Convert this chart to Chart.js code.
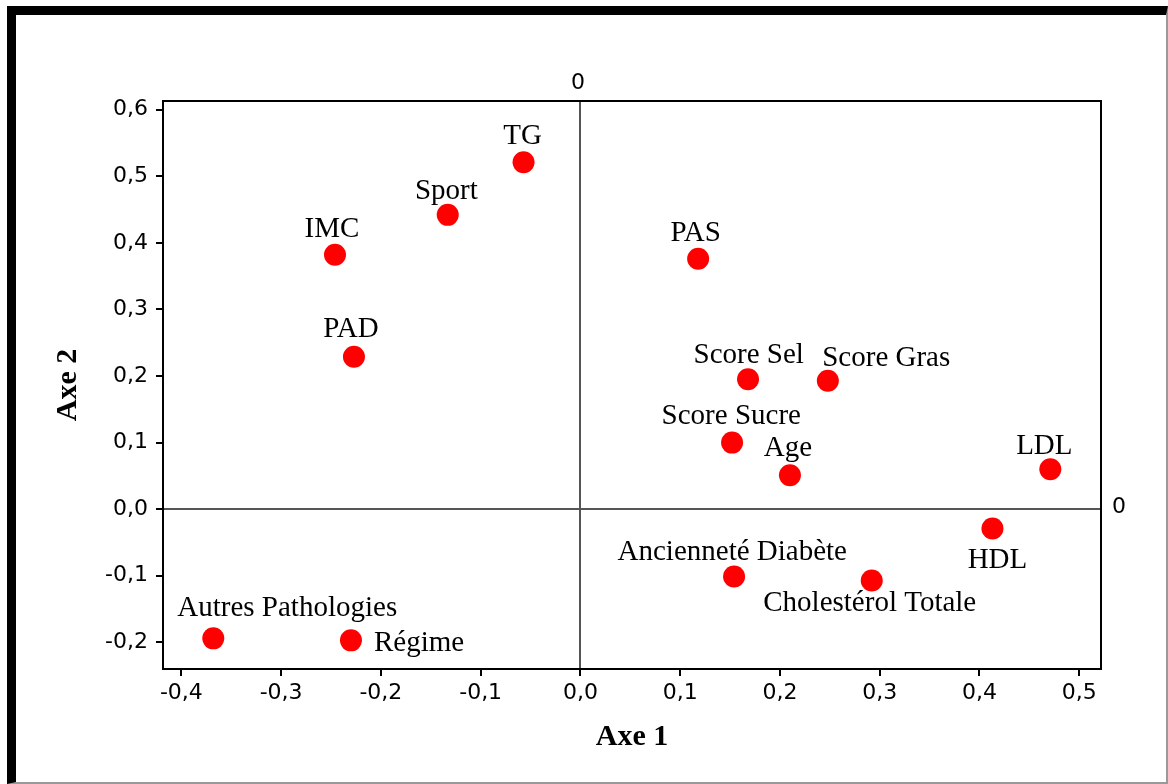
<!DOCTYPE html>
<html>
<head>
<meta charset="utf-8">
<script src="https://cdn.jsdelivr.net/npm/chart.js@4"></script>
<style>
  body { margin: 0; background: #fff; }
  #wrap { position: relative; width: 1168px; height: 784px; }
  #frame {
    position: absolute; left: 7px; top: 6px; width: 1161px; height: 778px;
    box-sizing: border-box; pointer-events: none;
    border-top: 9px solid #000; border-left: 9px solid #000;
    border-right: 2px solid #999; border-bottom: 2px solid #999;
  }
</style>
</head>
<body>
<div id="wrap">
  <canvas id="acp" width="1168" height="784"></canvas>
  <div id="frame"></div>
</div>
<script>
// variables (labels) and their coordinates on the two axes
const variables = ['IMC', 'Sport', 'TG', 'PAD', 'PAS', 'Score Sel', 'Score Gras', 'Score Sucre', 'Age',
  'LDL', 'HDL', 'Ancienneté Diabète', 'Cholestérol Totale', 'Autres Pathologies', 'Régime'];
const axe1 = [-0.246, -0.133, -0.057, -0.227, 0.118, 0.168, 0.248, 0.152, 0.210,
  0.471, 0.413, 0.154, 0.292, -0.368, -0.230];
const axe2 = [0.382, 0.442, 0.521, 0.229, 0.376, 0.195, 0.193, 0.100, 0.051,
  0.060, -0.029, -0.101, -0.107, -0.194, -0.197];

const xTicks = [-0.4, -0.3, -0.2, -0.1, 0.0, 0.1, 0.2, 0.3, 0.4, 0.5];
const yTicks = [-0.2, -0.1, 0.0, 0.1, 0.2, 0.3, 0.4, 0.5, 0.6];

const fmt = v => v.toFixed(1).replace('.', ',').replace('-0,0', '0,0');

// where each label sits relative to its point (pixels)
const labelPlace = {
  'IMC': [-3, -17.6, 'center'],
  'Sport': [-1.4, -16, 'center'],
  'TG': [-1, -18, 'center'],
  'PAD': [-3, -19.4, 'center'],
  'PAS': [-2.5, -18.3, 'center'],
  'Score Sel': [0.7, -16.7, 'center'],
  'Score Gras': [-5.6, -15, 'left'],
  'Score Sucre': [-0.8, -18.7, 'center'],
  'Age': [-2, -19, 'center'],
  'LDL': [-6, -15.7, 'center'],
  'HDL': [5, 39.6, 'center'],
  'Ancienneté Diabète': [-1.8, -16.3, 'center'],
  'Cholestérol Totale': [-2, 30.3, 'center'],
  'Autres Pathologies': [-36, -22, 'left'],
  'Régime': [23, 11, 'left']
};

const framePlugin = {
  id: 'framePlugin',
  beforeDatasetsDraw(chart) {
    const { ctx, chartArea: a, scales: { x, y } } = chart;
    ctx.save();
    // zero lines
    ctx.strokeStyle = '#555';
    ctx.lineWidth = 2;
    const x0 = Math.round(x.getPixelForValue(0));
    const y0 = Math.round(y.getPixelForValue(0));
    ctx.beginPath();
    ctx.moveTo(x0, a.top); ctx.lineTo(x0, a.bottom);
    ctx.moveTo(a.left, y0); ctx.lineTo(a.right, y0);
    ctx.stroke();
    // plot border
    ctx.strokeStyle = '#000';
    ctx.lineWidth = 2;
    ctx.strokeRect(a.left, a.top, a.right - a.left, a.bottom - a.top);
    // "0" markers of the reference lines
    ctx.fillStyle = '#000';
    ctx.font = '22px "DejaVu Sans"';
    ctx.textAlign = 'center';
    ctx.textBaseline = 'middle';
    ctx.fillText('0', x0 - 2, a.top - 18);
    ctx.fillText('0', a.right + 18, y0 - 2);
    ctx.restore();
  },
  afterDatasetsDraw(chart) {
    const { ctx } = chart;
    const meta = chart.getDatasetMeta(0);
    ctx.save();
    ctx.fillStyle = '#000';
    ctx.font = '29px "Liberation Serif"';
    ctx.textBaseline = 'alphabetic';
    meta.data.forEach((pt, i) => {
      const name = variables[i];
      const p = labelPlace[name] || [0, -18, 'center'];
      ctx.textAlign = p[2];
      ctx.fillText(name, pt.x + p[0], pt.y + p[1]);
    });
    ctx.restore();
  }
};

new Chart(document.getElementById('acp'), {
  type: 'scatter',
  data: {
    datasets: [{
      label: 'Variables',
      data: axe1.map((v, i) => ({ x: v, y: axe2[i] })),
      backgroundColor: '#ff0000',
      borderWidth: 0,
      pointRadius: 11,
      pointHoverRadius: 11
    }]
  },
  options: {
    responsive: false,
    animation: false,
    layout: { padding: { left: 0, right: 67, top: 101, bottom: 0 } },
    plugins: { legend: { display: false }, tooltip: { enabled: false } },
    scales: {
      x: {
        type: 'linear',
        min: -0.4184,
        max: 0.5218,
        afterFit: s => { s.height = 115; },
        afterBuildTicks: s => { s.ticks = xTicks.map(v => ({ value: v })); },
        ticks: {
          padding: 4,
          color: '#000',
          font: { family: 'DejaVu Sans', size: 22 },
          callback: v => fmt(v),
          maxRotation: 0
        },
        grid: { drawOnChartArea: false, tickLength: 7, color: '#000', lineWidth: 2 },
        border: { display: true, color: '#000', width: 2 },
        title: {
          display: true,
          text: 'Axe 1',
          color: '#000',
          font: { family: 'Liberation Serif', size: 30, weight: 'bold' },
          padding: { top: 0, bottom: 29 }
        }
      },
      y: {
        type: 'linear',
        min: -0.24,
        max: 0.613,
        afterFit: s => { s.width = 163; },
        afterBuildTicks: s => { s.ticks = yTicks.map(v => ({ value: v })); },
        ticks: {
          padding: 8,
          color: '#000',
          font: { family: 'DejaVu Sans', size: 22 },
          callback: v => fmt(v)
        },
        grid: { drawOnChartArea: false, tickLength: 7, color: '#000', lineWidth: 2 },
        border: { display: true, color: '#000', width: 2 },
        title: {
          display: true,
          text: 'Axe 2',
          color: '#000',
          font: { family: 'Liberation Serif', size: 30, weight: 'bold' },
          padding: { top: 50, bottom: 0 }
        }
      }
    }
  },
  plugins: [framePlugin]
});
</script>
</body>
</html>
